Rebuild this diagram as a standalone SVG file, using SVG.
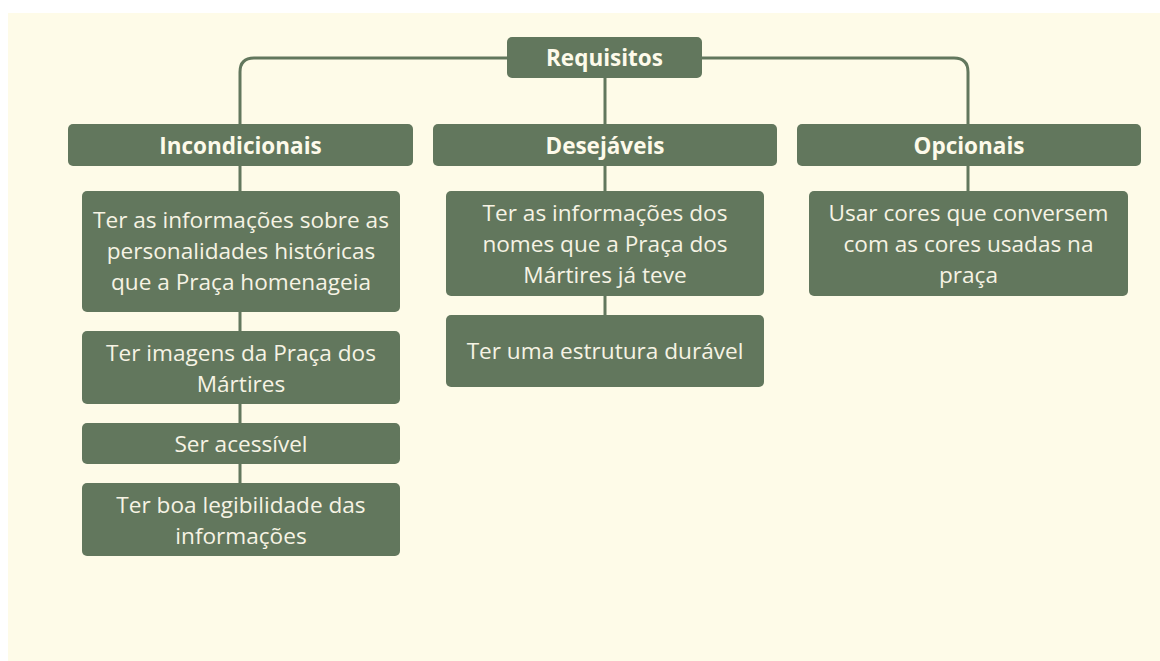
<svg xmlns="http://www.w3.org/2000/svg" width="1160" height="661" viewBox="0 0 1160 661">
<style>
.box{fill:#62775d;}
.hd{font-family:"Open Sans","Noto Sans",sans-serif;font-weight:bold;font-size:22.5px;fill:#fdfaea;text-anchor:middle;}
.tx{font-family:"Open Sans","Noto Sans",sans-serif;font-size:22.6px;fill:#f6f3e4;text-anchor:middle;}
.ln{fill:none;stroke:#62775d;stroke-width:3;}
</style>
<rect x="0" y="0" width="1160" height="661" fill="#ffffff"/>
<rect x="8" y="13" width="1152" height="648" fill="#fefbe8"/>
<g id="connectors">
<path class="ln" d="M240,124 V72 Q240,58 254,58 H954 Q968,58 968,72 V124"/>
<path class="ln" d="M605,78 V124"/>
<path class="ln" d="M240,166 V483"/>
<path class="ln" d="M605,166 V315"/>
<path class="ln" d="M968,166 V191"/>
</g>
<g id="requisitos"><rect class="box" x="507" y="37" width="195" height="41" rx="5"/><text class="hd" x="604.5" y="66">Requisitos</text></g>
<g id="incondicionais"><rect class="box" x="68" y="124" width="345" height="42" rx="5"/><text class="hd" x="240.5" y="153.5">Incondicionais</text></g>
<g id="desejaveis"><rect class="box" x="433" y="124" width="344" height="42" rx="5"/><text class="hd" x="605" y="153.5">Desejáveis</text></g>
<g id="opcionais"><rect class="box" x="797" y="124" width="344" height="42" rx="5"/><text class="hd" x="969" y="153.5">Opcionais</text></g>
<g id="inc1"><rect class="box" x="82" y="191" width="318" height="121" rx="5"/><text class="tx" x="241" y="228">Ter as informações sobre as</text><text class="tx" x="241" y="259">personalidades históricas</text><text class="tx" x="241" y="290">que a Praça homenageia</text></g>
<g id="inc2"><rect class="box" x="82" y="331" width="318" height="73" rx="5"/><text class="tx" x="241" y="361">Ter imagens da Praça dos</text><text class="tx" x="241" y="392">Mártires</text></g>
<g id="inc3"><rect class="box" x="82" y="423" width="318" height="41" rx="5"/><text class="tx" x="241" y="452">Ser acessível</text></g>
<g id="inc4"><rect class="box" x="82" y="483" width="318" height="73" rx="5"/><text class="tx" x="241" y="513">Ter boa legibilidade das</text><text class="tx" x="241" y="544">informações</text></g>
<g id="des1"><rect class="box" x="446" y="191" width="318" height="105" rx="5"/><text class="tx" x="605" y="221">Ter as informações dos</text><text class="tx" x="605" y="252">nomes que a Praça dos</text><text class="tx" x="605" y="283">Mártires já teve</text></g>
<g id="des2"><rect class="box" x="446" y="315" width="318" height="72" rx="5"/><text class="tx" x="605" y="359">Ter uma estrutura durável</text></g>
<g id="opc1"><rect class="box" x="809" y="191" width="319" height="105" rx="5"/><text class="tx" x="968.5" y="221">Usar cores que conversem</text><text class="tx" x="968.5" y="252">com as cores usadas na</text><text class="tx" x="968.5" y="283">praça</text></g>
</svg>
